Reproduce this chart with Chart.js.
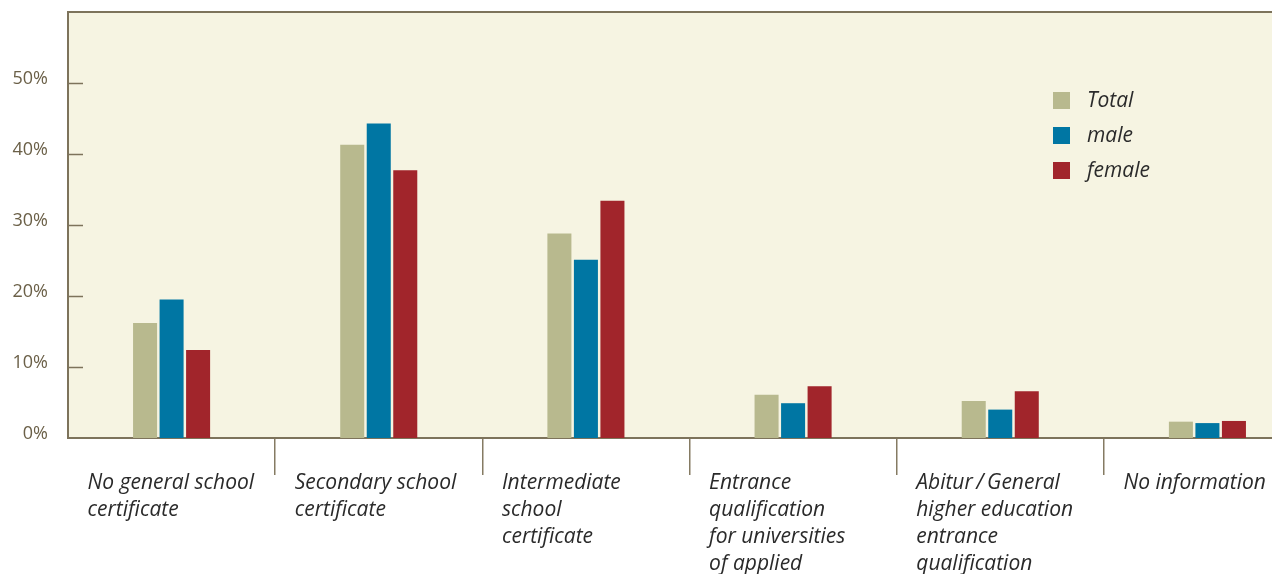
<!DOCTYPE html>
<html>
<head>
<meta charset="utf-8">
<script src="https://cdn.jsdelivr.net/npm/chart.js@4/dist/chart.umd.min.js"></script>
<style>
  html, body { margin: 0; padding: 0; background: #ffffff; overflow: hidden; }
  #wrap { position: relative; width: 1311px; height: 640px; }
</style>
</head>
<body>
<div id="wrap"><canvas id="chart"></canvas></div>
<script>
// School-leaving qualifications, share in percent
const categories = [
  ['No general school', 'certificate'],
  ['Secondary school', 'certificate'],
  ['Intermediate', 'school', 'certificate'],
  ['Entrance', 'qualification', 'for universities', 'of applied', 'sciences'],
  ['Abitur\u2009/\u2009General', 'higher education', 'entrance', 'qualification'],
  ['No information']
];
const seriesNames = ['Total', 'male', 'female'];
const totalValues  = [16.2, 41.3, 28.8, 6.1, 5.2, 2.3];
const maleValues   = [19.5, 44.3, 25.1, 4.9, 4.0, 2.1];
const femaleValues = [12.4, 37.7, 33.4, 7.3, 6.6, 2.4];
const yTickValues  = [0, 10, 20, 30, 40, 50];

const COLORS = ['#b8b98e', '#0076a3', '#a1252b'];
const PANEL = '#f6f4e2';
const AXIS = '#7d735b';

// cream plot panel with a top rule
const panelPlugin = {
  id: 'panel',
  beforeDraw(chart) {
    const { ctx, chartArea: a } = chart;
    ctx.save();
    ctx.fillStyle = PANEL;
    ctx.fillRect(a.left, a.top, a.right - a.left, a.bottom - a.top);
    ctx.strokeStyle = AXIS;
    ctx.lineWidth = 2;
    ctx.beginPath();
    ctx.moveTo(a.left - 1, a.top);
    ctx.lineTo(a.right, a.top);
    ctx.stroke();
    ctx.restore();
  }
};

// short tick marks on the inside of the value axis
const innerTicksPlugin = {
  id: 'innerTicks',
  afterDatasetsDraw(chart) {
    const { ctx, chartArea: a } = chart;
    const y = chart.scales.y;
    ctx.save();
    ctx.strokeStyle = AXIS;
    ctx.lineWidth = 1.5;
    y.ticks.forEach(t => {
      if (t.value === 0) return;
      const py = Math.round(y.getPixelForValue(t.value)) + 0.5;
      ctx.beginPath();
      ctx.moveTo(a.left, py);
      ctx.lineTo(a.left + 15, py);
      ctx.stroke();
    });
    ctx.restore();
  }
};

// legend block inside the plot, upper right
const panelLegendPlugin = {
  id: 'panelLegend',
  afterDraw(chart) {
    const { ctx } = chart;
    const x0 = 1053, y0 = 92, step = 35, box = 17;
    ctx.save();
    ctx.font = 'italic 21px "Open Sans"';
    ctx.textBaseline = 'middle';
    ctx.textAlign = 'left';
    chart.data.datasets.forEach((ds, i) => {
      const y = y0 + i * step;
      ctx.fillStyle = ds.backgroundColor;
      ctx.fillRect(x0, y, box, box);
      ctx.fillStyle = '#2b2b2b';
      ctx.fillText(ds.label, x0 + 34, y + box / 2 + 1);
    });
    ctx.restore();
  }
};

const seriesData = [totalValues, maleValues, femaleValues];

new Chart(document.getElementById('chart'), {
  type: 'bar',
  data: {
    labels: categories,
    datasets: seriesNames.map((name, i) => ({
      label: name,
      data: seriesData[i],
      backgroundColor: COLORS[i],
      borderWidth: 0,
      categoryPercentage: 0.384,
      barPercentage: 0.906
    }))
  },
  options: {
    responsive: true,
    maintainAspectRatio: false,
    animation: false,
    devicePixelRatio: 1,
    layout: { autoPadding: false, padding: { top: 12, left: 0, right: 0, bottom: 0 } },
    plugins: { legend: { display: false }, tooltip: { enabled: false } },
    scales: {
      x: {
        type: 'category',
        offset: true,
        afterFit(s) { s.height = 640 - 438; s.paddingLeft = 0; s.paddingRight = 0; },
        border: { display: true, color: AXIS, width: 2 },
        grid: {
          offset: true,
          drawOnChartArea: false,
          drawTicks: true,
          tickLength: 37,
          lineWidth: 1.5,
          color: c => (c.index === 0 ? 'rgba(0,0,0,0)' : '#857b63')
        },
        ticks: {
          autoSkip: false,
          maxRotation: 0,
          minRotation: 0,
          align: 'start',
          labelOffset: -84,
          padding: -5,
          color: '#2a2a2a',
          font: { family: '"Open Sans"', style: 'italic', size: 21, lineHeight: '27px' }
        }
      },
      y: {
        min: 0,
        max: 60,
        afterFit(s) { s.width = 68; s.paddingTop = 0; s.paddingBottom = 0; },
        afterBuildTicks(s) { s.ticks = yTickValues.map(v => ({ value: v })); },
        border: { display: true, color: AXIS, width: 2 },
        grid: { display: false, drawTicks: false },
        ticks: {
          padding: 20,
          labelOffset: -4,
          color: '#6b6048',
          font: { family: '"Open Sans"', size: 18 },
          callback: v => v + '%'
        }
      }
    }
  },
  plugins: [panelPlugin, innerTicksPlugin, panelLegendPlugin]
});
</script>
</body>
</html>
